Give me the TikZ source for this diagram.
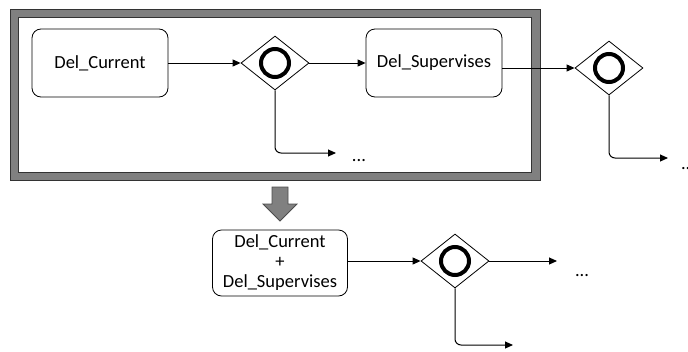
\documentclass[tikz,border=0pt]{standalone}
\usepackage{fontspec}
\setmainfont{Carlito}
\usepackage{tikz}
\usetikzlibrary{shapes.geometric,arrows.meta}

\begin{document}
\begin{tikzpicture}[x=1pt,y=-1pt,
  task/.style={draw,rounded corners=9pt,line width=0.8pt,minimum width=136pt,minimum height=68pt,inner sep=0pt,align=center,font=\fontsize{18.5}{20}\selectfont},
  gate/.style={diamond,draw,line width=0.8pt,minimum width=68pt,minimum height=54pt,inner sep=0pt},
  ring/.style={circle,draw,line width=4pt,minimum size=28pt,inner sep=0pt},
  flow/.style={-{Triangle[length=8pt,width=7pt]},line width=1pt},
  dots/.style={anchor=base,inner sep=0pt,font=\fontsize{18.5}{20}\selectfont}]
\useasboundingbox (0,0) rectangle (688,351);

\draw[line width=1pt,draw=black!80,fill=gray] (10,9) rectangle (540,180);
\draw[line width=1pt,draw=black!80,fill=white] (18,17) rectangle (531,172);

\node[task] (cur) at (100,63) {Del\_Current};
\node[gate] (g1) at (275,63) {};
\node[ring] at (g1) {};
\node[task] (sup) at (434,63) {Del\_Supervises};
\node[gate] (g2) at (609,68) {};
\node[ring] at (g2) {};

\coordinate (e1) at (336,153);
\coordinate (e2) at (668,158);
\node[dots] (d1) at (359,161) {...};
\node[dots] (d2) at (688,169) {...};

\draw[flow] (cur) -- (g1);
\draw[flow] (g1) -- (sup);
\draw[flow] (sup.east |- g2) -- (g2);
\draw[flow,rounded corners=6pt] (g1.south) |- (e1);
\draw[flow,rounded corners=6pt] (g2.south) |- (e2);

\draw[line width=0.8pt,draw=black!70,fill=gray] (272,187) -- (288,187) -- (288,204) -- (297,204) -- (280,221) -- (263,204) -- (272,204) -- cycle;

\node[task,minimum width=135pt,minimum height=66pt] (m) at (280,263) {Del\_Current\\+\\Del\_Supervises};
\node[gate] (g3) at (455,261) {};
\node[ring] at (g3) {};
\coordinate (e3) at (557,261);
\coordinate (e4) at (513,345);
\node[dots] (d3) at (582,276) {...};

\draw[flow] (m.east |- g3) -- (g3);
\draw[flow] (g3) -- (e3);
\draw[flow,rounded corners=6pt] (g3.south) |- (e4);

\end{tikzpicture}
\end{document}
